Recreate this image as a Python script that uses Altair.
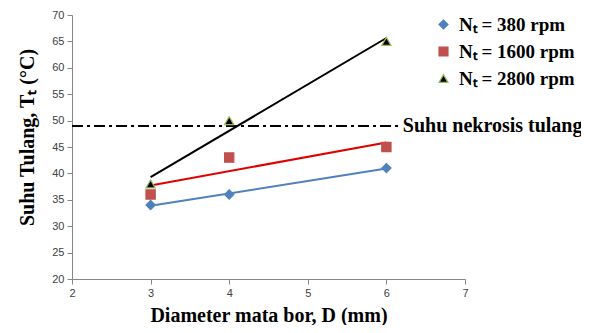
import altair as alt
import pandas as pd

diameters = [3, 4, 6]
series_names = ["Nₜ = 380 rpm", "Nₜ = 1600 rpm", "Nₜ = 2800 rpm"]
temp_380 = [34, 36, 41]
temp_1600 = [36, 43, 45]
temp_2800 = [38, 50, 65]
necrosis_temp = 49
necrosis_x = [2, 6.17]
necrosis_label = "Suhu nekrosis tulang"
x_ticks = [2, 3, 4, 5, 6, 7]
y_ticks = [20, 25, 30, 35, 40, 45, 50, 55, 60, 65, 70]

point_fill = ["#4f81bd", "#c0504d", "#000000"]
point_stroke = ["#4f81bd", "#c0504d", "#9bbb59"]
line_colors = ["#4f81bd", "#e00000", "#000000"]
shapes = ["diamond", "square", "triangle-up"]

rows = []
for name, vals in zip(series_names, [temp_380, temp_1600, temp_2800]):
    for d, t in zip(diameters, vals):
        rows.append({"D": d, "T": t, "series": name})
df = pd.DataFrame(rows)

nec_df = pd.DataFrame({"D": necrosis_x, "T": [necrosis_temp] * 2})
lab_df = pd.DataFrame({"D": [necrosis_x[1]], "T": [necrosis_temp], "label": [necrosis_label]})

xscale = alt.Scale(domain=[2, 7], nice=False)
yscale = alt.Scale(domain=[20, 70], nice=False)

xaxis = alt.Axis(values=x_ticks, format="d", tickCount=6, title="Diameter mata bor, D (mm)",
                 titlePadding=7, labelOverlap=False)
yaxis = alt.Axis(values=y_ticks, format="d", tickCount=11, title="Suhu Tulang, Tₜ (°C)",
                 titlePadding=14, titleFontSize=20, titleY=122, labelOverlap=False)


def xe():
    return alt.X("D:Q", scale=xscale, axis=xaxis)


def ye():
    return alt.Y("T:Q", scale=yscale, axis=yaxis)


base = alt.Chart(df)

lines = base.transform_regression("D", "T", groupby=["series"]).mark_line(strokeWidth=2).encode(
    x=xe(), y=ye(),
    color=alt.Color("series:N", scale=alt.Scale(domain=series_names, range=line_colors), legend=None),
)

points = base.mark_point(filled=True, size=85, strokeWidth=1.2, opacity=1).encode(
    x=xe(), y=ye(),
    fill=alt.Fill("series:N", scale=alt.Scale(domain=series_names, range=point_fill),
                  legend=alt.Legend(title=None, orient="none", legendX=362, legendY=0)),
    stroke=alt.Stroke("series:N", scale=alt.Scale(domain=series_names, range=point_stroke), legend=None),
    shape=alt.Shape("series:N", scale=alt.Scale(domain=series_names, range=shapes),
                    legend=alt.Legend(title=None, orient="none", legendX=362, legendY=0)),
)

necro = alt.Chart(nec_df).mark_line(color="#000000", strokeWidth=2, strokeDash=[11, 4, 3, 4]).encode(
    x=xe(), y=ye())

necro_text = alt.Chart(lab_df).mark_text(
    align="left", baseline="middle", dx=3, font="Liberation Serif", fontWeight="bold",
    fontSize=20, color="#000000").encode(
    x=xe(), y=ye(), text="label:N")

chart = alt.layer(lines, necro, points, necro_text).resolve_scale(
    color="independent"
).properties(
    width=393, height=264,
    autosize=alt.AutoSizeParams(type="none"),
    padding={"left": 64, "top": 7, "right": 116, "bottom": 46},
).configure_view(stroke=None).configure_axis(
    grid=False, domainColor="#868686", tickColor="#868686", tickSize=5,
    labelColor="#404040", labelFont="Liberation Sans", labelFontSize=11, labelPadding=3,
    labelOverlap=False, labelFlush=False,
    titleFont="Liberation Serif", titleFontWeight="bold", titleFontSize=20, titleColor="#000000",
).configure_legend(
    labelFont="Liberation Serif", labelFontWeight="bold", labelFontSize=19, labelColor="#000000",
    symbolSize=80, labelOffset=6, rowPadding=7, padding=0, symbolStrokeWidth=1.2,
)

chart.save("out.html", embed_options={"renderer": "svg", "actions": False})
